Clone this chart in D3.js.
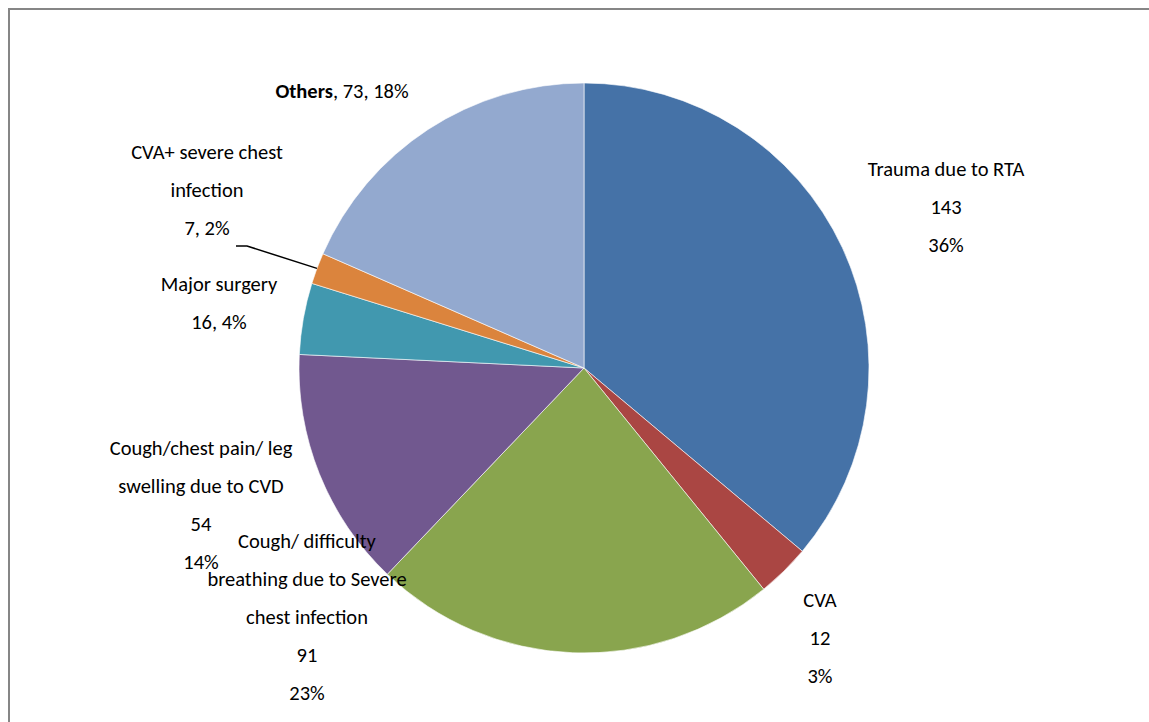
<!DOCTYPE html>
<html>
<head>
    <meta charset="utf-8">
    <script src="https://d3js.org/d3.v7.min.js"></script>
    <style>
        body { margin: 0; background: #fff; }
        text { font-family: Carlito, Lato, "Noto Sans", sans-serif; font-size: 20.5px; fill: #000; }
    </style>
</head>
<body>
<svg id="chart" width="1149" height="722"></svg>
<script>
    // data
    const categories = ["Trauma due to RTA", "CVA", "Cough/ difficulty breathing due to Severe chest infection",
                        "Cough/chest pain/ leg swelling due to CVD", "Major surgery",
                        "CVA+ severe chest infection", "Others"];
    const values = [143, 12, 91, 54, 16, 7, 73];
    const percentLabels = ["36%", "3%", "23%", "14%", "4%", "2%", "18%"];
    const colors = ["#4572A7", "#AA4643", "#89A54E", "#71588F", "#4198AF", "#DB843D", "#93A9CF"];

    // label text lines, as broken in the original
    const labelLines = [
        ["Trauma due to RTA", "143", "36%"],
        ["CVA", "12", "3%"],
        ["Cough/ difficulty", "breathing due to Severe", "chest infection", "91", "23%"],
        ["Cough/chest pain/ leg", "swelling due to CVD", "54", "14%"],
        ["Major surgery", "16, 4%"],
        ["CVA+ severe chest", "infection", "7, 2%"],
        null
    ];
    // label anchor (centre x, first baseline y), layout only
    const labelPos = [[946, 176], [820, 607], [307, 548], [201, 455], [219, 291], [207, 159], [342, 98]];

    const svg = d3.select("#chart");
    const cx = 584, cy = 368, r = 285;
    const lineH = 38;

    svg.append("rect")
        .attr("x", 9).attr("y", 9)
        .attr("width", 1160).attr("height", 740)
        .attr("fill", "none")
        .attr("stroke", "#868686")
        .attr("stroke-width", 2);

    const pie = d3.pie().sort(null).value(d => d);
    const arc = d3.arc().innerRadius(0).outerRadius(r);
    const arcs = pie(values);

    const g = svg.append("g").attr("transform", `translate(${cx},${cy})`);
    g.selectAll("path.slice")
        .data(arcs)
        .join("path")
        .attr("class", "slice")
        .attr("d", arc)
        .attr("fill", (d, i) => colors[i])
        .attr("stroke", "#fff")
        .attr("stroke-width", 0.6);

    // multi-line labels
    labelLines.forEach((lines, i) => {
        if (!lines) return;
        const t = svg.append("text")
            .attr("text-anchor", "middle");
        lines.forEach((ln, k) => {
            t.append("tspan")
                .attr("x", labelPos[i][0])
                .attr("y", labelPos[i][1] + k * lineH)
                .text(ln);
        });
    });

    // "Others" label on one line with bold name
    const oi = 6;
    const ot = svg.append("text")
        .attr("x", labelPos[oi][0]).attr("y", labelPos[oi][1])
        .attr("text-anchor", "middle");
    ot.append("tspan").attr("font-weight", "bold").text(categories[oi]);
    ot.append("tspan").text(`, ${values[oi]}, ${percentLabels[oi]}`);

    // leader line for the small orange slice
    const small = arcs[5];
    const mid = (small.startAngle + small.endAngle) / 2;
    const edge = [Math.sin(mid) * r + cx, -Math.cos(mid) * r + cy];
    svg.append("polyline")
        .attr("points", [[236, 246], [247, 246], edge].map(p => p.join(",")).join(" "))
        .attr("fill", "none")
        .attr("stroke", "#000")
        .attr("stroke-width", 1.5);
</script>
</body>
</html>
